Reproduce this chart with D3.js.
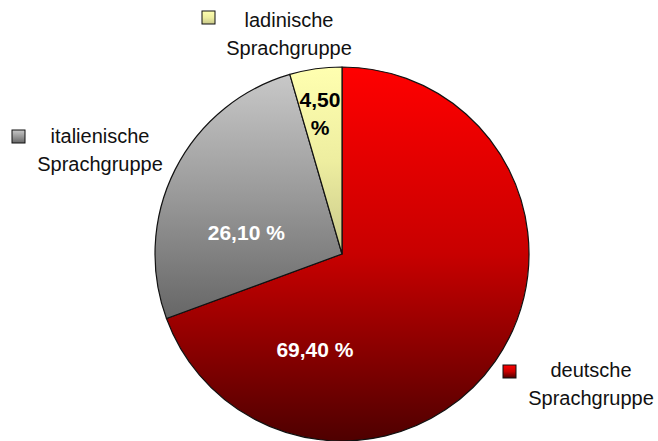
<!DOCTYPE html>
<html>
<head>
<meta charset="utf-8">
<script src="https://cdn.jsdelivr.net/npm/d3@7"></script>
<style>
  body { margin: 0; background: #fff; }
  svg { display: block; }
</style>
</head>
<body>
<div id="chart"></div>
<script>
// data
const groups = ["deutsche Sprachgruppe", "italienische Sprachgruppe", "ladinische Sprachgruppe"];
const shares = [69.4, 26.1, 4.5];
const shareLabels = ["69,40 %", "26,10 %", "4,50 %"];

// look
const WIDTH = 658, HEIGHT = 441;
const CX = 342, CY = 254, R = 187;
const FILLS = [
  ["#ff0000", "#c80000", "#4e0000"],
  ["#c8c8c8", "#999999", "#666666"],
  ["#ffffb0", "#eeeea0", "#c8c88a"]
];
const LABEL_COLORS = ["#ffffff", "#ffffff", "#000000"];
// where each value label sits (angle in degrees from top, radius)
const LABEL_AT = [{ a: 195.7, r: 100 }, { a: 282.4, r: 98 }, { a: 351.1, r: 142 }];
// legend entries: marker box, text centre, first baseline
const LEGEND_AT = [
  { mx: 503, my: 365, tx: 591, ty: 377 },
  { mx: 12, my: 130, tx: 100, ty: 143 },
  { mx: 202, my: 11, tx: 289, ty: 27 }
];

const svg = d3.select("#chart").append("svg")
  .attr("width", WIDTH)
  .attr("height", HEIGHT);

const defs = svg.append("defs");
FILLS.forEach((f, i) => {
  const lg = defs.append("linearGradient")
    .attr("id", "grad" + i)
    .attr("x1", 0).attr("y1", 0).attr("x2", 0).attr("y2", 1);
  lg.append("stop").attr("offset", "0%").attr("stop-color", f[0]);
  lg.append("stop").attr("offset", "50%").attr("stop-color", f[1]);
  lg.append("stop").attr("offset", "100%").attr("stop-color", f[2]);
});

const pie = d3.pie().sort(null).value(d => d);
const arcs = pie(shares);
const arc = d3.arc().innerRadius(0).outerRadius(R);

const g = svg.append("g").attr("transform", `translate(${CX},${CY})`);

g.selectAll("path")
  .data(arcs)
  .join("path")
    .attr("d", arc)
    .attr("fill", (d, i) => `url(#grad${i})`)
    .attr("stroke", "#111")
    .attr("stroke-width", 1.2)
    .attr("stroke-linejoin", "round");

// value labels
const font = "'Liberation Sans', Arial, sans-serif";
arcs.forEach((d, i) => {
  const a = LABEL_AT[i].a * Math.PI / 180;
  const x = LABEL_AT[i].r * Math.sin(a);
  const y = -LABEL_AT[i].r * Math.cos(a);
  const lines = i === 2 ? shareLabels[i].split(" ") : [shareLabels[i]];
  const t = g.append("text")
    .attr("text-anchor", "middle")
    .attr("font-family", font)
    .attr("font-weight", "bold")
    .attr("font-size", 21)
    .attr("fill", LABEL_COLORS[i]);
  const lh = 28;
  const y0 = y - (lines.length - 1) * lh / 2 + 7;
  lines.forEach((ln, k) => {
    t.append("tspan").attr("x", x).attr("y", y0 + k * lh).text(ln);
  });
});

// legend
groups.forEach((name, i) => {
  const L = LEGEND_AT[i];
  svg.append("rect")
    .attr("x", L.mx).attr("y", L.my)
    .attr("width", 13).attr("height", 13)
    .attr("fill", `url(#grad${i})`)
    .attr("stroke", "#111")
    .attr("stroke-width", 1);
  const parts = name.split(" ");
  const t = svg.append("text")
    .attr("text-anchor", "middle")
    .attr("font-family", font)
    .attr("font-size", 20)
    .attr("fill", "#111");
  parts.forEach((p, k) => {
    t.append("tspan").attr("x", L.tx).attr("y", L.ty + k * 28).text(p);
  });
});
</script>
</body>
</html>
